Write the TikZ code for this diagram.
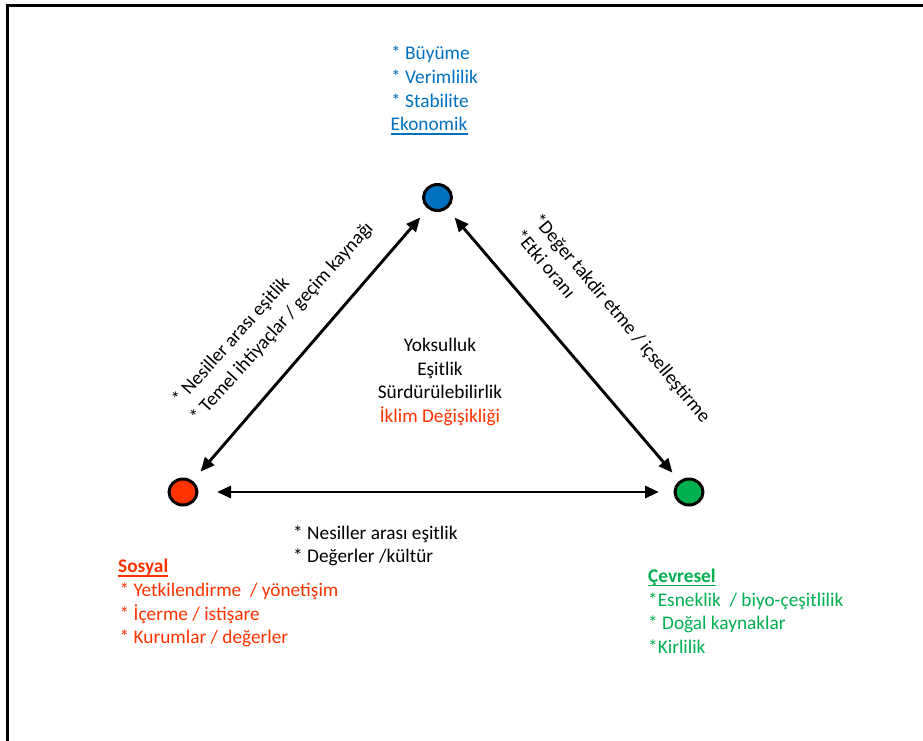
\documentclass[tikz,border=0pt]{standalone}
\usepackage{fontspec}
\setmainfont{Carlito}
\usetikzlibrary{arrows.meta,shapes.geometric}
\definecolor{ekoblue}{HTML}{0070C0}
\definecolor{sosred}{HTML}{FF3300}
\definecolor{cevgreen}{HTML}{00B050}
\begin{document}
\begin{tikzpicture}[x=1pt,y=-1pt,
  txt/.style={font=\fontsize{19.3}{24}\selectfont, inner sep=0pt, anchor=base west},
  ctxt/.style={txt, anchor=base},
  dot/.style={ellipse, draw=black, line width=3pt, minimum width=28pt, minimum height=26pt, inner sep=0pt},
  link/.style={line width=2.9pt, {Triangle[length=14pt,width=12pt]}-{Triangle[length=14pt,width=12pt]}},
  uline/.style={line width=1.4pt}
]
\useasboundingbox (0,0) rectangle (923,740);
\clip (0,0) rectangle (923,740);
\fill[white] (0,0) rectangle (923,740);
\draw[line width=3pt] (7,745) -- (7,5.3) -- (930,5.3);

% circles
\node[dot, fill=ekoblue] (eko) at (437.5,197.5) {};
\node[dot, fill=sosred] (sos) at (183,492) {};
\node[dot, fill=cevgreen] (cev) at (689,492) {};

% connectors
\draw[link, shorten <=12pt, shorten >=11.5pt] (sos) -- (eko);
\draw[link, shorten <=11.5pt, shorten >=10.5pt] (eko) -- (cev);
\draw[link, shorten <=18.5pt, shorten >=14.5pt] (sos) -- (cev);

% Ekonomik block
\node[txt, text=ekoblue] (b1) at (391,59) {* Büyüme};
\node[txt, text=ekoblue] (b2) at (391,83) {* Verimlilik};
\node[txt, text=ekoblue] (b3) at (391,107) {* Stabilite};
\node[txt, text=ekoblue] (ekot) at (390.5,130.5) {Ekonomik};
\draw[ekoblue, uline] ([yshift=-3.5pt]ekot.base west) -- ([yshift=-3.5pt]ekot.base east);

% center block
\node[ctxt] (c1) at (440,351.5) {Yoksulluk};
\node[ctxt] (c2) at (440,375) {Eşitlik};
\node[ctxt] (c3) at (440,398.5) {Sürdürülebilirlik};
\node[ctxt, text=sosred] (c4) at (440,422) {İklim Değişikliği};

% bottom middle
\node[txt] (h1) at (293,539) {* Nesiller arası eşitlik};
\node[txt] (h2) at (293,562.5) {* Değerler /kültür};

% Sosyal block
\node[txt, text=sosred, font=\fontsize{19.3}{24}\selectfont\bfseries] (sost) at (118,572.5) {Sosyal};
\draw[sosred, uline] ([yshift=-3.5pt]sost.base west) -- ([yshift=-3.5pt]sost.base east);
\node[txt, text=sosred] (s1) at (119.5,596.5) {* Yetkilendirme\ \ / yönetişim};
\node[txt, text=sosred] (s2) at (119.5,620) {* İçerme / istişare};
\node[txt, text=sosred] (s3) at (119.5,643.5) {* Kurumlar / değerler};

% Cevresel block
\node[txt, text=cevgreen, font=\fontsize{19.3}{24}\selectfont\bfseries] (cevt) at (648,582) {Çevresel};
\draw[cevgreen, uline] ([yshift=-3.5pt]cevt.base west) -- ([yshift=-3.5pt]cevt.base east);
\node[txt, text=cevgreen] (g1) at (648,606) {*Esneklik\ \ / biyo-çeşitlilik};
\node[txt, text=cevgreen] (g2) at (648,629.5) {* Doğal kaynaklar};
\node[txt, text=cevgreen] (g3) at (648,653) {*Kirlilik};

% rotated labels
\node[txt, rotate=48] (l1) at (180,406) {* Nesiller arası eşitlik};
\node[txt, rotate=48] (l2) at (198,424) {* Temel ihtiyaçlar / geçim kaynağı};
\node[txt, rotate=-50] (r1) at (531.6,220.2) {*Değer takdir etme / içselleştirme};
\node[txt, rotate=-50] (r2) at (513.5,236) {*Etki oranı};
\end{tikzpicture}
\end{document}
